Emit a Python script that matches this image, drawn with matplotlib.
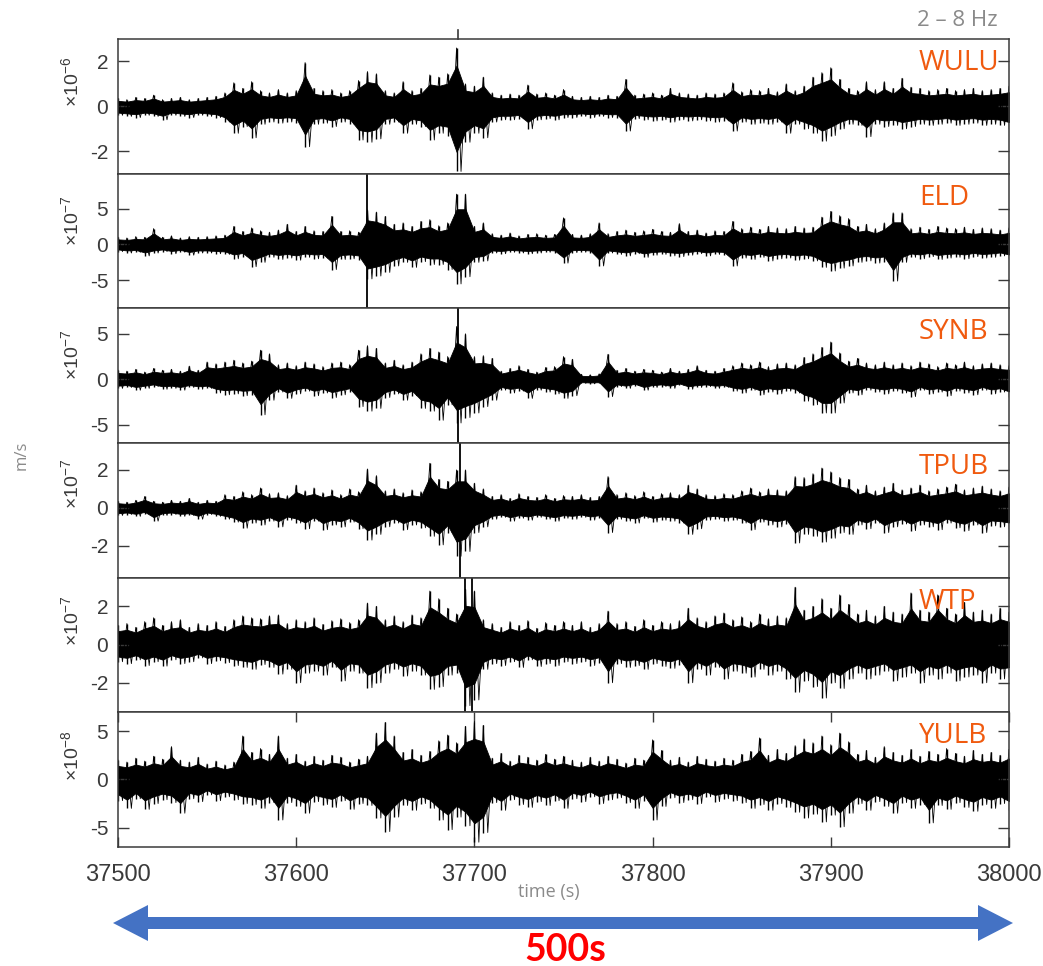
import numpy as np
import matplotlib
matplotlib.use("Agg")
import matplotlib.pyplot as plt
from matplotlib import transforms
from matplotlib.patches import Polygon

plt.rcParams['axes.unicode_minus'] = False
plt.rcParams['mathtext.fontset'] = 'custom'
plt.rcParams['mathtext.rm'] = 'Liberation Sans'
plt.rcParams['font.family'] = ['Liberation Sans', 'DejaVu Sans']

# station order, top to bottom
stations = ["WULU", "ELD", "SYNB", "TPUB", "WTP", "YULB"]
exponents = [-6, -7, -7, -7, -7, -8]

# envelope of each trace read every 5 s from 37500 to 38000 s
# (units of the panel's 10^exponent m/s)
t_start = 37500
t_step = 5.0

wulu_hi = [0.35, 0.30, 0.40, 0.35, 0.50, 0.30, 0.35, 0.40, 0.30, 0.35,
           0.40, 0.45, 0.60, 1.05, 0.80, 1.10, 0.70, 0.60, 0.75, 0.60,
           0.70, 1.95, 0.80, 0.70, 0.75, 0.60, 0.70, 1.15, 1.55, 1.45,
           0.70, 0.60, 1.10, 0.70, 0.80, 1.40, 1.30, 1.45, 2.60, 1.00,
           0.90, 1.30, 0.60, 0.50, 0.55, 0.50, 0.95, 0.55, 0.60, 0.50,
           0.75, 0.45, 0.40, 0.45, 0.40, 0.50, 0.45, 1.20, 0.50, 0.55,
           0.60, 0.50, 0.80, 0.60, 0.55, 0.50, 0.60, 0.55, 0.60, 1.05,
           0.65, 0.75, 0.70, 0.80, 0.65, 1.00, 0.70, 0.90, 1.30, 1.50,
           1.72, 1.20, 0.80, 0.70, 1.10, 0.75, 1.10, 0.80, 1.25, 0.85,
           0.80, 0.70, 0.75, 0.80, 0.70, 0.75, 0.80, 0.70, 0.75, 0.80, 0.90]
wulu_lo = [-0.40, -0.45, -0.50, -0.40, -0.45, -0.60, -0.40, -0.45, -0.50, -0.40,
           -0.45, -0.50, -0.70, -1.20, -0.90, -1.40, -0.80, -0.70, -0.75, -0.70,
           -0.75, -1.80, -0.80, -0.75, -0.90, -0.70, -0.80, -1.50, -1.60, -1.45,
           -0.80, -0.70, -1.20, -0.80, -0.90, -1.50, -1.20, -1.30, -2.90, -1.60,
           -1.20, -1.40, -0.70, -0.60, -0.60, -0.55, -1.00, -0.60, -0.55, -0.60,
           -0.50, -0.50, -0.45, -0.50, -0.45, -0.50, -0.50, -1.10, -0.55, -0.60,
           -0.65, -0.60, -0.70, -0.60, -0.65, -0.60, -0.65, -0.70, -0.65, -1.10,
           -0.70, -0.80, -0.75, -0.80, -0.70, -1.20, -0.80, -1.00, -1.20, -1.55,
           -1.30, -1.00, -0.80, -0.85, -1.35, -0.80, -0.90, -0.85, -1.00, -0.90,
           -0.80, -0.85, -0.80, -0.75, -0.85, -0.80, -0.75, -0.85, -0.80, -0.85, -1.00]

eld_hi = [1.0, 0.9, 1.1, 1.0, 2.2, 1.0, 1.2, 0.9, 1.1, 1.0,
          1.1, 1.2, 1.3,
          2.5, 1.8, 2.3, 1.9, 1.7, 2.0, 2.8, 1.8, 2.5, 1.9, 1.8,
          3.9, 1.8, 1.9, 1.7, 4.8, 4.5, 3.9,
          2.8, 3.0, 2.5, 3.2, 3.45, 2.6, 3.0, 7.0, 7.0, 2.5, 3.0,
          1.5, 1.3, 1.6, 1.2, 1.4, 1.5, 1.3, 1.4, 3.7,
          1.4, 1.3, 1.5, 3.0, 1.5,
          1.8, 2.0, 1.7, 1.9, 2.1, 1.8, 1.7, 2.9, 1.8, 2.0, 1.6, 1.9, 1.8,
          3.2, 2.2, 2.4, 2.1, 2.5, 2.3, 2.2, 2.5, 2.3, 2.4,
          3.8, 4.6, 4.0, 3.6, 2.5, 2.8, 2.2, 3.0, 4.4, 4.4,
          2.2, 2.4, 2.1, 2.5, 2.3, 2.2, 2.4, 2.1, 2.3, 2.2, 2.0, 2.3]
eld_lo = [-1.0, -1.2, -1.1, -1.6, -1.2, -1.0, -1.3, -1.1, -1.5, -1.2,
          -1.2, -1.3, -1.4,
          -2.0, -1.7, -3.1, -2.5, -1.8, -2.1, -1.9, -2.2, -1.8, -2.0, -1.9,
          -3.5, -2.1, -2.0, -2.2, -4.8, -4.4, -3.9,
          -3.0, -2.5, -3.2, -2.4, -2.8, -2.8, -3.5, -5.5, -4.5, -2.5, -2.3,
          -1.2, -1.3, -1.1, -1.2, -1.3, -1.2, -1.1, -1.2, -2.6,
          -1.15, -1.1, -1.2, -3.0, -1.2,
          -1.4, -1.6, -1.3, -1.8, -1.5, -1.4, -1.6, -1.7, -1.5, -1.3, -1.6, -1.4, -1.5,
          -3.0, -1.9, -2.1, -1.8, -2.3, -2.0, -1.9, -2.2, -2.0, -2.3,
          -3.2, -3.7, -3.3, -3.0, -2.5, -2.3, -2.6, -2.4, -5.1, -2.5,
          -1.8, -2.0, -1.7, -2.1, -1.9, -1.8, -2.0, -1.7, -1.9, -1.8, -1.6, -2.0]

synb_hi = [1.0, 0.9, 1.1, 0.8, 1.2, 1.0, 1.1, 0.9, 1.45, 1.0, 1.9,
           1.7, 1.9, 2.1, 1.8, 2.0, 3.2, 2.8,
           1.6, 1.8, 1.5, 1.9, 1.7, 1.4, 1.8, 1.9, 1.6,
           3.2, 3.7, 3.4, 1.8, 2.1, 1.6, 1.9, 2.8, 3.4, 3.0, 2.5,
           5.8, 5.0, 2.5, 2.6, 2.3,
           0.9, 1.2, 1.5, 1.1, 0.8, 1.3, 1.4, 2.5, 2.2,
           0.55, 0.5, 0.6, 2.75,
           1.0, 1.2, 0.9, 1.1, 1.0, 0.8, 1.2, 0.9, 1.1, 1.5, 1.0, 0.9, 1.2,
           1.5, 1.8, 1.6, 1.9, 1.4, 1.7, 1.8, 1.6,
           2.4, 2.8, 3.5, 4.1, 2.9, 2.0, 2.3, 1.8, 1.6, 1.9,
           1.6, 1.8, 1.5, 1.9, 1.7, 1.4, 1.8, 1.6, 1.9, 1.5, 1.7, 1.8, 1.6, 1.5]
synb_lo = [-1.0, -0.9, -1.2, -1.0, -0.8, -1.1, -1.0, -1.2, -0.9, -1.1, -1.0,
           -1.5, -1.7, -1.6, -1.8, -1.7, -3.9, -2.3,
           -1.4, -2.1, -1.6, -1.3, -1.8, -1.5, -2.0, -1.7, -1.4,
           -3.0, -3.5, -3.2, -2.0, -1.6, -2.3, -1.8, -3.2, -3.5, -4.5, -2.8,
           -4.8, -4.2, -3.7, -3.0, -2.3,
           -1.2, -1.5, -1.3, -2.1, -1.2, -1.4, -1.6, -2.1, -1.8,
           -0.45, -0.5, -0.45, -1.9,
           -0.8, -1.0, -0.7, -1.2, -0.9, -0.8, -1.0, -0.65, -1.1, -0.9, -0.8, -1.0, -0.9,
           -1.3, -1.5, -1.2, -1.7, -1.4, -1.6, -1.3, -1.5,
           -2.4, -2.8, -3.7, -3.7, -2.6, -1.5, -1.7, -1.2, -1.4, -1.6,
           -1.3, -1.5, -1.9, -1.2, -1.6, -1.4, -1.8, -1.3, -1.5, -1.7, -1.2, -1.6, -1.4, -1.9]

tpub_hi = [0.35, 0.3, 0.4, 0.6, 0.35, 0.3, 0.4, 0.35, 0.5, 0.3, 0.4, 0.35,
           0.7, 0.6, 0.85, 0.7, 1.05, 0.75, 0.8, 0.65,
           1.2, 0.9, 1.05, 0.8, 0.95, 0.7, 1.0, 0.85,
           2.05, 1.7, 0.9, 1.0, 0.8, 0.95, 0.85, 2.35, 1.5, 1.4,
           2.0, 2.0, 1.3, 1.0,
           0.6, 0.7, 0.5, 0.75, 0.6, 0.55, 0.7, 0.5, 0.65, 0.6, 0.7, 0.55, 0.6,
           1.65, 0.7, 0.8, 0.65, 0.85, 0.6, 0.75, 0.8, 0.7,
           1.2, 1.0, 0.7, 0.65, 0.75, 0.7,
           0.9, 1.05, 0.85, 1.0, 0.95, 0.9, 1.65,
           1.6, 1.8, 2.1, 1.9, 1.6, 1.5,
           1.0, 1.2, 0.9, 1.1, 1.3, 0.95, 1.05, 1.2, 0.9, 1.0, 1.1, 1.25,
           0.95, 1.05, 1.15, 1.0, 0.9, 1.1]
tpub_lo = [-0.4, -0.35, -0.45, -0.3, -0.7, -0.4, -0.35, -0.45, -0.4, -0.6, -0.35, -0.45,
           -0.6, -0.75, -1.07, -0.8, -0.9, -0.7, -1.0, -0.65,
           -0.8, -1.1, -0.7, -1.15, -0.9, -1.0, -0.75, -1.1,
           -1.7, -1.4, -1.0, -0.8, -1.15, -0.9, -1.05, -1.5, -1.95, -1.3,
           -2.55, -2.3, -1.3, -1.0,
           -0.6, -0.5, -0.7, -0.55, -0.65, -0.5, -0.6, -0.7, -0.55, -0.6, -0.5, -0.65, -0.55,
           -1.3, -0.6, -0.7, -0.8, -0.55, -0.75, -0.65, -0.7, -0.8,
           -1.4, -1.1, -0.65, -0.6, -0.7, -0.65,
           -0.8, -1.15, -0.75, -0.9, -1.0, -0.85, -1.85,
           -1.4, -1.5, -1.8, -1.6, -1.3, -1.4,
           -0.9, -1.1, -0.8, -1.3, -1.0, -0.85, -1.2, -0.9, -1.0, -1.15, -0.8, -1.05,
           -1.2, -0.9, -1.3, -0.95, -1.0, -1.1]

wtp_hi = [1.0, 1.1, 0.9, 1.2, 1.4, 1.0, 1.2, 1.3, 0.9, 1.1, 1.0, 1.2, 0.95,
          1.3, 1.5, 1.4, 1.35, 1.5, 1.55,
          1.1, 1.3, 1.2, 1.4, 1.05, 1.25, 1.35, 1.15, 1.3,
          2.17, 2.0, 1.3, 1.5, 1.2, 1.55, 1.4, 2.8, 2.4, 1.9, 1.6, 2.9, 2.8,
          1.3, 1.1, 0.9, 1.2, 1.0, 1.25, 0.85, 1.15, 1.0, 1.2,
          1.0, 1.2, 0.9, 1.1, 1.75,
          1.1, 1.2, 0.95, 1.3, 1.0, 1.2, 1.1, 1.25, 1.9,
          1.4, 1.2, 1.5, 1.65, 1.3, 1.45, 1.2, 1.6, 1.35, 1.5, 1.4,
          3.0, 1.8, 2.0, 2.4, 1.9, 2.6, 2.1,
          1.6, 1.8, 1.5, 2.0, 1.7, 1.6, 2.7, 1.8, 1.7, 2.6, 1.9, 1.6,
          2.2, 1.7, 1.8, 1.6, 1.9, 1.7]
wtp_lo = [-0.9, -1.0, -0.8, -1.1, -0.9, -1.13, -0.8, -1.0, -0.9, -0.7, -1.0, -0.85, -0.95,
          -1.1, -1.2, -1.3, -1.05, -1.2, -1.55,
          -1.3, -2.0, -1.5, -1.4, -1.6, -1.2, -1.9, -1.4, -1.5,
          -2.26, -2.0, -1.5, -1.3, -1.65, -1.4, -1.6, -2.35, -2.2, -1.6, -1.5, -3.2, -2.9,
          -1.3, -1.0, -1.1, -0.9, -1.2, -0.8, -1.15, -1.0, -1.1, -0.9,
          -1.0, -0.9, -1.1, -0.95, -2.0,
          -1.0, -1.2, -1.1, -1.3, -1.0, -1.15, -1.25, -1.05, -2.0,
          -1.3, -1.6, -1.2, -1.8, -1.4, -1.5, -1.7, -1.3, -1.6, -1.4, -1.8,
          -2.5, -1.9, -2.2, -2.8, -2.0, -2.3, -1.8,
          -1.5, -1.8, -1.6, -1.4, -1.9, -1.7, -1.5, -2.0, -1.6, -1.8, -1.5, -1.9,
          -1.7, -1.6, -2.0, -1.5, -1.8, -1.7]

yulb_hi = [2.0, 1.8, 2.2, 1.9, 2.4, 2.1, 3.4, 2.0, 1.8, 2.3,
           1.6, 1.9, 1.5, 1.8, 4.5, 2.8, 3.2, 2.6, 4.5,
           2.2, 2.6, 1.9, 2.4, 2.0, 2.5, 2.3, 1.8, 2.1, 2.4,
           4.8, 5.9, 4.5, 2.8, 3.1, 2.5, 2.9, 4.0, 4.6, 3.8, 5.5, 6.0, 5.6,
           2.2, 2.7, 1.9, 2.5, 2.3, 2.0, 2.6, 2.1, 2.4,
           2.0, 1.8, 2.3, 1.9, 2.4, 2.1, 1.7, 2.2, 2.0, 4.1, 3.0,
           2.0, 2.3, 1.8, 2.4, 2.1, 1.9, 2.2, 2.0,
           2.6, 2.9, 4.3, 2.5, 3.1, 2.7,
           3.5, 4.2, 3.8, 4.5, 3.6, 4.8, 3.9,
           2.6, 3.0, 2.3, 3.4, 2.8, 2.5, 3.1, 2.4, 2.9, 2.6, 3.2, 2.7,
           2.4, 3.0, 2.6, 2.8, 2.5, 3.1]
yulb_lo = [-2.2, -3.0, -2.0, -3.1, -2.5, -2.1, -2.4, -3.5, -2.0, -2.3,
           -1.6, -2.2, -1.8, -2.1, -2.5, -2.6, -3.0, -2.4, -4.2,
           -2.4, -2.8, -3.5, -2.3, -2.6, -2.9, -2.2, -3.1, -2.5, -2.7,
           -4.0, -5.4, -3.9, -2.7, -3.2, -2.5, -3.0, -4.2, -5.2, -3.9, -4.8, -6.5, -5.5,
           -2.4, -3.2, -2.1, -2.6, -2.9, -2.3, -2.7, -2.2, -3.0,
           -2.0, -2.3, -1.8, -2.5, -2.1, -1.9, -2.4, -3.0, -2.2, -4.2, -2.8,
           -1.9, -2.4, -2.1, -2.5, -1.8, -2.3, -2.0, -2.2,
           -2.4, -3.0, -2.6, -3.2, -2.5, -2.9,
           -3.4, -4.0, -3.6, -4.4, -3.7, -4.9, -3.5,
           -2.5, -3.2, -2.3, -2.8, -3.5, -2.4, -3.0, -2.6, -4.5, -2.7, -3.1, -2.4,
           -2.9, -3.3, -2.6, -3.0, -2.5, -3.2]

# single large pulses that run through the whole panel
eld_pulses = [37639.6]
synb_pulses = [37690.9]
tpub_pulses = [37691.9]
wtp_pulses = [37694.7, 37698.4]

y_limits = [(-3.0, 3.0), (-8.9, 9.85), (-7.0, 7.8), (-3.68, 3.42), (-3.55, 3.5), (-7.0, 6.95)]
y_ticks = [[-2, 0, 2], [-5, 0, 5], [-5, 0, 5], [-2, 0, 2], [-2, 0, 2], [-5, 0, 5]]
x_ticks = [37500, 37600, 37700, 37800, 37900, 38000]

highs = [wulu_hi, eld_hi, synb_hi, tpub_hi, wtp_hi, yulb_hi]
lows = [wulu_lo, eld_lo, synb_lo, tpub_lo, wtp_lo, yulb_lo]
pulses = [[], eld_pulses, synb_pulses, tpub_pulses, wtp_pulses, []]

################################################################################

W, H = 1043, 966
fig = plt.figure(figsize=(W / 100, H / 100), dpi=100)

left_px, right_px, top_px, bottom_px = 118, 1009, 39, 847
panel_h = (bottom_px - top_px) / len(stations)
frame_col = '#3a3a3a'
label_col = '#8a8a8a'
station_col = '#F05A0F'

axes = []
for k, name in enumerate(stations):
    rect = [left_px / W, 1 - (top_px + (k + 1) * panel_h) / H,
            (right_px - left_px) / W, panel_h / H]
    ax = fig.add_axes(rect)
    axes.append(ax)

    hi = np.array(highs[k])
    lo = np.array(lows[k])
    t = t_start + t_step * np.arange(len(hi))
    # solid body of the trace, the read peaks as strokes, and the swing between them
    ax.fill_between(t, 0.7 * lo, 0.7 * hi, color='k', lw=0.6)
    ax.vlines(t, lo, hi, color='k', lw=1.0)
    xs = np.column_stack([t, t + t_step / 2]).ravel()
    ys = np.column_stack([hi, lo]).ravel()
    ax.plot(xs, ys, color='k', lw=0.6)
    for p in pulses[k]:
        ax.axvline(p, color='k', lw=1.3)

    ax.set_xlim(37500, 38000)
    ax.set_ylim(*y_limits[k])
    ax.set_yticks(y_ticks[k])
    ax.set_yticklabels([str(v) for v in y_ticks[k]])

    for s in ax.spines.values():
        s.set_color(frame_col)
        s.set_linewidth(1.1)
    ax.tick_params(axis='y', direction='in', length=8, width=1, color=frame_col,
                   left=True, right=True, labelsize=15, labelcolor=frame_col, pad=7)
    if k < len(stations) - 1:
        ax.tick_params(axis='x', bottom=False, labelbottom=False)
    else:
        ax.set_xticks(x_ticks)
        ax.tick_params(axis='x', direction='in', length=7, width=1, color=frame_col,
                       top=True, bottom=True, labelsize=17, labelcolor=frame_col, pad=12)

    ax.text((919 - left_px) / (right_px - left_px), 1 - 31 / panel_h, name,
            transform=ax.transAxes, ha='left', va='baseline', fontsize=20,
            color=station_col, family='Open Sans')

    # exponent label beside the y axis
    trans = transforms.offset_copy(ax.get_yaxis_transform(), fig=fig, x=0, y=24, units='dots')
    ax.text((72 - left_px) / (right_px - left_px), 0, r'$\times10^{%d}$' % exponents[k],
            transform=trans, rotation=90, ha='center', va='center', fontsize=14,
            color=frame_col)

# small mark above the top panel
axes[0].axvline(37690.9, ymin=1.0, ymax=1.065, clip_on=False, color=frame_col, lw=1.2)

fig.text(998 / W, 1 - 20 / H, "2 – 8 Hz", ha='right', va='center', fontsize=16,
         color=label_col, family='Open Sans')
fig.text(22 / W, 1 - 455 / H, "m/s", ha='center', va='center', rotation=90,
         fontsize=12, color=label_col, family='Open Sans')
fig.text(549 / W, 1 - 892 / H, "time (s)", ha='center', va='center',
         fontsize=13, color=label_col, family='Open Sans')

# double arrow spanning the 500 s window
x0, x1, yc = 113, 1013, 923
sh, hh, hl = 6, 18, 35
pts = [(x0, yc), (x0 + hl, yc - hh), (x0 + hl, yc - sh), (x1 - hl, yc - sh),
       (x1 - hl, yc - hh), (x1, yc), (x1 - hl, yc + hh), (x1 - hl, yc + sh),
       (x0 + hl, yc + sh), (x0 + hl, yc + hh)]
arrow = Polygon([(x / W, 1 - y / H) for x, y in pts], closed=True,
                transform=fig.transFigure, facecolor='#4472C4', edgecolor='none')
fig.patches.append(arrow)

fig.text(565 / W, 1 - 950 / H, "500s", ha='center', va='center', fontsize=27,
         fontweight='bold', color='#FF0000', family='Lato')

fig.savefig("out.png", dpi=100)
